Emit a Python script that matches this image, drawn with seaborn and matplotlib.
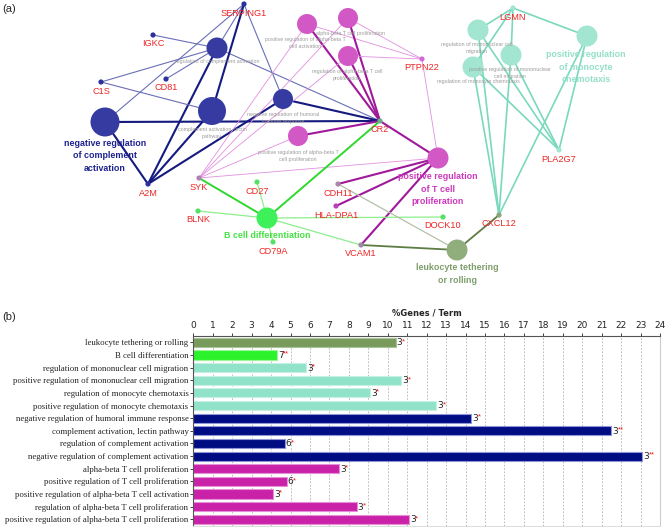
import numpy as np
import pandas as pd
import matplotlib
matplotlib.use('Agg')
import matplotlib.pyplot as plt
import seaborn as sns

sns.set_style('white')
plt.rcParams['font.family'] = ['Liberation Sans', 'DejaVu Sans']

# ---------------- panel (b): GO term bars ----------------
terms = [
    'leukocyte tethering or rolling',
    'B cell differentiation',
    'regulation of mononuclear cell migration',
    'positive regulation of mononuclear cell migration',
    'regulation of monocyte chemotaxis',
    'positive regulation of monocyte chemotaxis',
    'negative regulation of humoral immune response',
    'complement activation, lectin pathway',
    'regulation of complement activation',
    'negative regulation of complement activation',
    'alpha-beta T cell proliferation',
    'positive regulation of T cell proliferation',
    'positive regulation of alpha-beta T cell activation',
    'regulation of alpha-beta T cell proliferation',
    'positive regulation of alpha-beta T cell proliferation',
]
pct_genes = [10.4, 4.3, 5.8, 10.7, 9.1, 12.5, 14.3, 21.5, 4.7, 23.1, 7.5, 4.8, 4.1, 8.4, 11.1]
n_genes = [3, 7, 3, 3, 3, 3, 3, 3, 6, 3, 3, 6, 3, 3, 3]
stars = ['*', '**', '*', '*', '*', '*', '*', '**', '*', '**', '*', '*', '*', '*', '*']
groups = ['leuko', 'bcell', 'mono', 'mono', 'mono', 'mono',
          'compl', 'compl', 'compl', 'compl',
          'tcell', 'tcell', 'tcell', 'tcell', 'tcell']

bar_colors = {'leuko': '#789b5c', 'bcell': '#2cf22c', 'mono': '#90e3c9',
              'compl': '#000c82', 'tcell': '#c922a9'}
bar_edges = {'leuko': '#a9c39a', 'bcell': '#9af59a', 'mono': '#c5f0e3',
             'compl': '#8f95d6', 'tcell': '#e48fd6'}

# ---------------- panel (a): ClueGO style network ----------------
gene_names = ['SERPING1', 'IGKC', 'C1S', 'CD81', 'A2M', 'CR2', 'PTPN22', 'SYK',
              'CD27', 'BLNK', 'CD79A', 'CDH11', 'HLA-DPA1', 'DOCK10', 'VCAM1',
              'CXCL12', 'LGMN', 'PLA2G7']
gene_x = [244, 153, 101, 166, 148, 380, 422, 199, 257, 198, 273, 338, 336, 443, 361, 499, 513, 559]
gene_y = [4, 35, 82, 79, 184, 121, 59, 178, 182, 211, 242, 184, 206, 217, 245, 215, 8, 150]
gene_colors = ['#2b309c', '#2b309c', '#2b309c', '#2b309c', '#2b309c', '#6fae8a',
               '#cf6ccf', '#b07fb4', '#55e066', '#55e066', '#55e066', '#a887a8',
               '#bb40bb', '#55e066', '#9c8aa2', '#8aa47e', '#a2e6d2', '#a2e6d2']

term_ids = ['reg_compl', 'lectin', 'neg_compl', 'humoral',
            'ab_act', 'ab_prolif', 'reg_ab_prolif', 'pos_ab_prolif', 'pos_t_prolif',
            'bcell_diff', 'leuko',
            'reg_mono_mig', 'pos_mono_mig', 'reg_mono_chemo', 'pos_mono_chemo']
term_x = [217, 212, 105, 283, 307, 348, 348, 298, 438, 267, 457, 478, 511, 473, 587]
term_y = [48, 111, 122, 99, 24, 18, 56, 136, 158, 218, 250, 30, 55, 67, 36]
term_group = ['compl', 'compl', 'compl', 'compl',
              'tcell', 'tcell', 'tcell', 'tcell', 'tcell',
              'bcell', 'leuko', 'mono', 'mono', 'mono', 'mono']
term_radius = [10.5, 14, 14.5, 10, 10, 10, 10, 10, 10.5, 10.5, 10.5, 10.5, 10.5, 10.5, 10.5]
term_labels = [
    'regulation of complement activation',
    'complement activation, lectin\npathway',
    'negative regulation\nof complement\nactivation',
    'negative regulation of humoral\nimmune response',
    'positive regulation of alpha-beta T\ncell activation',
    'alpha-beta T cell proliferation',
    'regulation of alpha-beta T cell\nproliferation',
    'positive regulation of alpha-beta T\ncell proliferation',
    'positive regulation\nof T cell\nproliferation',
    'B cell differentiation',
    'leukocyte tethering\nor rolling',
    'regulation of mononuclear cell\nmigration',
    'positive regulation of mononuclear\ncell migration',
    'regulation of monocyte chemotaxis',
    'positive regulation\nof monocyte\nchemotaxis',
]
leading_terms = ['neg_compl', 'pos_t_prolif', 'bcell_diff', 'leuko', 'pos_mono_chemo']
label_x = [217, 212, 105, 283, 305, 350, 347, 298, 438, 267, 457, 477, 510, 478, 586]
label_y = [62, 133, 156, 118, 43, 33, 75, 156, 189, 236, 274, 48, 73, 82, 67]

# (term, gene, thick?)
edges = [
    ('reg_compl', 'SERPING1', 0), ('reg_compl', 'IGKC', 0), ('reg_compl', 'C1S', 0),
    ('reg_compl', 'CD81', 0), ('reg_compl', 'A2M', 1), ('reg_compl', 'CR2', 0),
    ('lectin', 'SERPING1', 1), ('lectin', 'C1S', 0), ('lectin', 'A2M', 1),
    ('neg_compl', 'SERPING1', 0), ('neg_compl', 'A2M', 1), ('neg_compl', 'CR2', 1),
    ('humoral', 'SERPING1', 0), ('humoral', 'A2M', 1), ('humoral', 'CR2', 1),
    ('ab_act', 'CR2', 1), ('ab_act', 'PTPN22', 0), ('ab_act', 'SYK', 0),
    ('ab_prolif', 'CR2', 1), ('ab_prolif', 'PTPN22', 0), ('ab_prolif', 'SYK', 0),
    ('reg_ab_prolif', 'CR2', 1), ('reg_ab_prolif', 'PTPN22', 0), ('reg_ab_prolif', 'SYK', 0),
    ('pos_ab_prolif', 'CR2', 1), ('pos_ab_prolif', 'SYK', 0),
    ('pos_t_prolif', 'CR2', 1), ('pos_t_prolif', 'PTPN22', 0), ('pos_t_prolif', 'SYK', 0),
    ('pos_t_prolif', 'CDH11', 1), ('pos_t_prolif', 'HLA-DPA1', 1), ('pos_t_prolif', 'VCAM1', 1),
    ('bcell_diff', 'SYK', 1), ('bcell_diff', 'CR2', 1), ('bcell_diff', 'CD27', 0),
    ('bcell_diff', 'BLNK', 0), ('bcell_diff', 'CD79A', 0), ('bcell_diff', 'DOCK10', 0),
    ('bcell_diff', 'VCAM1', 0),
    ('leuko', 'VCAM1', 1), ('leuko', 'CXCL12', 1), ('leuko', 'CDH11', 0),
    ('reg_mono_mig', 'LGMN', 0), ('reg_mono_mig', 'PLA2G7', 0), ('reg_mono_mig', 'CXCL12', 0),
    ('pos_mono_mig', 'LGMN', 0), ('pos_mono_mig', 'PLA2G7', 0), ('pos_mono_mig', 'CXCL12', 0),
    ('reg_mono_chemo', 'LGMN', 0), ('reg_mono_chemo', 'PLA2G7', 0), ('reg_mono_chemo', 'CXCL12', 0),
    ('pos_mono_chemo', 'LGMN', 0), ('pos_mono_chemo', 'PLA2G7', 0), ('pos_mono_chemo', 'CXCL12', 0),
]

node_colors = {'compl': '#363ba2', 'tcell': '#d258c6', 'bcell': '#3ef05a',
               'leuko': '#8fae7c', 'mono': '#a2e6d2'}
label_colors = {'compl': '#1e238e', 'tcell': '#cc38bd', 'bcell': '#45e045',
                'leuko': '#7e9e6c', 'mono': '#93e0c9'}
edge_style = {  # (thin color, thin width, thick color, thick width)
    'compl': ('#6a6fb8', 0.8, '#141a7e', 1.5),
    'tcell': ('#e18fe0', 0.6, '#a0199a', 1.5),
    'bcell': ('#8cee8c', 0.9, '#2ed82e', 1.4),
    'leuko': ('#b3c1a8', 0.9, '#5e7d45', 1.3),
    'mono': ('#7ad9bd', 1.2, '#7ad9bd', 1.2),
}

fig = plt.figure(figsize=(6.67, 5.27), dpi=100)

# network drawn in pixel coordinates over the whole figure
ax = fig.add_axes([0, 0, 1, 1])
ax.set_xlim(0, 667)
ax.set_ylim(527, 0)
ax.axis('off')

gpos = {g: (x, y) for g, x, y in zip(gene_names, gene_x, gene_y)}
tpos = {t: (x, y) for t, x, y in zip(term_ids, term_x, term_y)}
tgroup = dict(zip(term_ids, term_group))

for t, g, thick in edges:
    c_thin, w_thin, c_thick, w_thick = edge_style[tgroup[t]]
    (x0, y0), (x1, y1) = tpos[t], gpos[g]
    ax.plot([x0, x1], [y0, y1], color=c_thick if thick else c_thin,
            lw=w_thick if thick else w_thin, zorder=1, solid_capstyle='round')

nodes = pd.DataFrame({
    'name': term_ids + gene_names,
    'x': term_x + gene_x,
    'y': term_y + gene_y,
})
palette = {t: node_colors[grp] for t, grp in zip(term_ids, term_group)}
palette.update(dict(zip(gene_names, gene_colors)))
sizes = {t: (2 * r * 0.72) ** 2 for t, r in zip(term_ids, term_radius)}
sizes.update({g: 14 for g in gene_names})
sns.scatterplot(data=nodes, x='x', y='y', hue='name', palette=palette, size='name',
                sizes=sizes, legend=False, edgecolor='none', ax=ax, zorder=2)
ax.set_xlim(0, 667)
ax.set_ylim(527, 0)
ax.axis('off')

for g, x, y in zip(gene_names, gene_x, gene_y):
    ax.text(x, y + 9, g, color='#ee2424', fontsize=6.6, ha='center', va='center', zorder=3)

for t, lab, lx, ly, grp in zip(term_ids, term_labels, label_x, label_y, term_group):
    if t in leading_terms:
        ax.text(lx, ly, lab, color=label_colors[grp], fontsize=6.4, fontweight='bold',
                ha='center', va='center', linespacing=1.45, zorder=3)
    else:
        ax.text(lx, ly, lab, color='#9a9a9a', fontsize=3.8, ha='center', va='center',
                linespacing=1.5, zorder=3)

ax.text(2, 9, '(a)', fontsize=8, ha='left', va='center')
ax.text(2, 317, '(b)', fontsize=8, ha='left', va='center')

# bar chart
axb = fig.add_axes([193.3 / 667, 1 - 525.6 / 527, (660 - 193.3) / 667, (525.6 - 336) / 527])
sns.barplot(x=pct_genes, y=terms, hue=groups, palette=bar_colors, dodge=False,
            orient='h', width=0.72, saturation=1, legend=False, ax=axb, zorder=2)
for p in axb.patches:
    if p.get_width() <= 0:
        continue
    row = int(round(p.get_y() + p.get_height() / 2))
    p.set_edgecolor(bar_edges[groups[row]])
    p.set_linewidth(0.8)

narrow = ['Liberation Sans Narrow', 'DejaVu Sans']
for i, v in enumerate(pct_genes):
    axb.annotate(str(n_genes[i]), (v, i), xytext=(0.8, -0.3), textcoords='offset points',
                 ha='left', va='center', fontsize=6.5, family=narrow, zorder=3)
    axb.annotate(stars[i], (v, i), xytext=(4.4, 0.6), textcoords='offset points',
                 ha='left', va='center', fontsize=5.5, color='#ee1111', zorder=3)

axb.set_xlim(0, 24)
axb.set_ylim(14.5, -0.5)
axb.set_xticks(range(0, 25))
axb.xaxis.tick_top()
axb.xaxis.set_label_position('top')
axb.set_xlabel('%Genes / Term', fontsize=6, fontweight='bold', family=narrow, labelpad=4)
axb.set_ylabel('')
axb.tick_params(axis='x', top=True, length=2.5, width=0.6, pad=1.5, labelsize=6.5,
                colors='#222222')
axb.tick_params(axis='y', left=True, length=2, width=0.6, pad=1.5, labelsize=6.3,
                colors='#222222')
for lab in axb.get_xticklabels():
    lab.set_family(narrow)
for lab in axb.get_yticklabels():
    lab.set_family(['Liberation Serif', 'DejaVu Serif'])
axb.set_axisbelow(True)
axb.grid(axis='x', linestyle=(0, (2, 2)), color='#b0b0b0', linewidth=0.6)
axb.grid(axis='y', visible=False)
axb.spines['top'].set_color('#555555')
axb.spines['left'].set_color('#555555')
axb.spines['right'].set_color('#cccccc')
axb.spines['bottom'].set_color('#dddddd')
for s in axb.spines.values():
    s.set_linewidth(0.8)

fig.savefig('out.png', dpi=100)
